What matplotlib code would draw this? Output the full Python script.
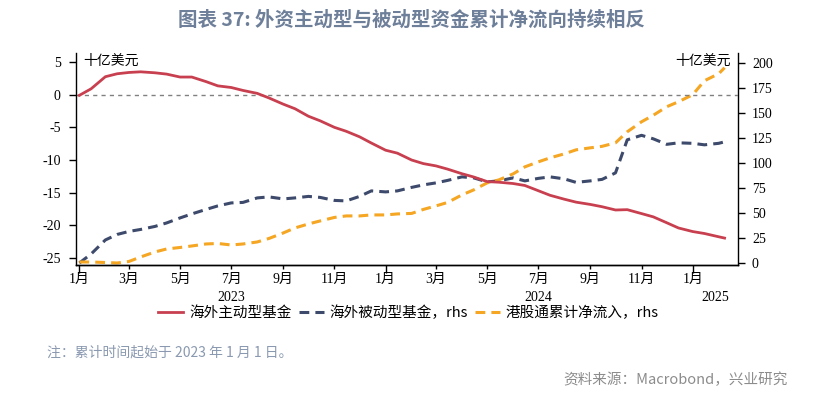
import matplotlib
matplotlib.use('Agg')
import matplotlib.pyplot as plt
import matplotlib.dates as mdates
import matplotlib.transforms as mtransforms
import pandas as pd

plt.rcParams['font.family'] = ['Liberation Serif', 'Noto Sans CJK SC', 'DejaVu Sans']
plt.rcParams['axes.unicode_minus'] = False

# 日期（半月取样）
dates = ['2023-01-01', '2023-01-15', '2023-02-01', '2023-02-15', '2023-03-01', '2023-03-15',
         '2023-04-01', '2023-04-15', '2023-05-01', '2023-05-15', '2023-06-01', '2023-06-15',
         '2023-07-01', '2023-07-15', '2023-08-01', '2023-08-15', '2023-09-01', '2023-09-15',
         '2023-10-01', '2023-10-15', '2023-11-01', '2023-11-15', '2023-12-01', '2023-12-15',
         '2024-01-01', '2024-01-15', '2024-02-01', '2024-02-15', '2024-03-01', '2024-03-15',
         '2024-04-01', '2024-04-15', '2024-05-01', '2024-05-15', '2024-06-01', '2024-06-15',
         '2024-07-01', '2024-07-15', '2024-08-01', '2024-08-15', '2024-09-01', '2024-09-15',
         '2024-10-01', '2024-10-15', '2024-11-01', '2024-11-15', '2024-12-01', '2024-12-15',
         '2025-01-01', '2025-01-15', '2025-02-01', '2025-02-08']

# 海外主动型基金（左轴，十亿美元）
active = [-0.1, 0.9, 2.75, 3.2, 3.4, 3.5, 3.35, 3.15, 2.7, 2.7, 2.0, 1.35,
          1.1, 0.65, 0.2, -0.5, -1.45, -2.15, -3.3, -4.0, -5.0, -5.6, -6.45, -7.4,
          -8.5, -8.95, -10.0, -10.55, -10.9, -11.4, -12.1, -12.6, -13.3, -13.4, -13.6, -13.9,
          -14.7, -15.4, -16.0, -16.45, -16.8, -17.15, -17.65, -17.6, -18.2, -18.7, -19.6, -20.4,
          -20.95, -21.25, -21.75, -21.95]

# 海外被动型基金（右轴）
passive = [0, 9, 23, 28.5, 31.5, 33.5, 36.5, 40, 45, 49, 53.5, 57,
           60, 60.5, 65, 66, 64, 65, 66.5, 65.5, 62.5, 62, 66.5, 72,
           71, 72, 75.5, 78, 80, 82.5, 86, 85, 81, 82, 85, 82,
           84.5, 86, 84, 80.5, 82, 83.5, 90, 123, 127.5, 124, 118.5, 120,
           119.5, 118, 119.5, 121]

# 港股通累计净流入（右轴）
southbound = [1, 1, 0.5, 0, 1.5, 6, 11, 14, 15.5, 17, 19, 19.5,
              18, 19, 21, 24.5, 30, 35, 39, 42, 45.5, 47, 47, 48,
              48, 49, 49.5, 53.5, 57, 60.5, 68, 73, 80, 83, 89, 96,
              101, 105, 109, 113, 115, 116.5, 120, 131, 141, 147.5, 156, 161,
              168, 182, 189, 195]

labels = ['海外主动型基金', '海外被动型基金，rhs', '港股通累计净流入，rhs']
years = ['2023', '2024', '2025']
year_pos = ['2023-07-01', '2024-07-01', '2025-01-28']

x = pd.to_datetime(dates)

fig = plt.figure(figsize=(8.22, 3.96), dpi=100)
ax = fig.add_axes([76/822, 1-265/396, 662/822, 212/396])
ax2 = ax.twinx()

cjk = ['Noto Sans CJK SC', 'DejaVu Sans']

l1, = ax.plot(x, active, color='#c8404f', lw=2.0, zorder=3)
l2, = ax2.plot(x, passive, color='#3d4a6b', lw=2.2, dashes=(3.2, 2.0))
l3, = ax2.plot(x, southbound, color='#f5a623', lw=2.2, dashes=(3.2, 2.0))
ax.set_zorder(ax2.get_zorder() + 1)
ax.patch.set_visible(False)

ax.axhline(0, color='#808080', lw=1.0, dashes=(3, 3), zorder=1)

ax.set_xlim(pd.Timestamp('2022-12-28'), pd.Timestamp('2025-02-24'))
ax.set_ylim(-26.07, 6.38)
ax2.set_ylim(-2, 209.7)
ax.set_yticks([5, 0, -5, -10, -15, -20, -25])
ax2.set_yticks([0, 25, 50, 75, 100, 125, 150, 175, 200])

ax.xaxis.set_major_locator(mdates.MonthLocator(bymonth=[1, 3, 5, 7, 9, 11]))
ax.xaxis.set_major_formatter(plt.FuncFormatter(lambda v, p: f'{mdates.num2date(v).month}月'))

for a in (ax, ax2):
    a.spines['top'].set_visible(False)
    for s in a.spines.values():
        s.set_linewidth(1.0)
ax.spines['right'].set_visible(False)
ax2.spines['left'].set_visible(False)

ax.tick_params(axis='y', direction='out', length=5, width=1, pad=6, labelsize=10)
ax2.tick_params(axis='y', direction='out', length=5, width=1, pad=5, labelsize=10)
ax.tick_params(axis='x', direction='out', length=3, width=1, pad=3, labelsize=10)

fig.canvas.draw()
for t, v in zip(ax.xaxis.get_major_ticks(), ax.get_xticks()):
    if mdates.num2date(v).month == 1:
        t.tick1line.set_markersize(6)

trans = mtransforms.blended_transform_factory(ax.transData, ax.transAxes)
for yr, pos in zip(years, year_pos):
    ax.text(pd.Timestamp(pos), -0.151, yr, transform=trans, ha='center', va='center', fontsize=10)

ax.text(0.0106, 0.962, '十亿美元', transform=ax.transAxes, ha='left', va='center',
        fontsize=10, family=cjk)
ax.text(0.989, 0.962, '十亿美元', transform=ax.transAxes, ha='right', va='center',
        fontsize=10, family=cjk)

fig.legend([l1, l2, l3], labels, loc='center', bbox_to_anchor=(0.497, 1-312.7/396),
           ncol=3, frameon=False, handlelength=1.7, handletextpad=0.4,
           columnspacing=0.5, prop={'family': cjk, 'size': 10.5})

fig.text(0.5, 1-20/396, '图表 37: 外资主动型与被动型资金累计净流向持续相反', ha='center', va='center',
         fontsize=14, fontweight='bold', color='#6e7f99', family=cjk)
fig.text(47/822, 1-353/396, '注：累计时间起始于 2023 年 1 月 1 日。', ha='left', va='center',
         fontsize=10, color='#8a99b0', family=cjk)
fig.text(788/822, 1-380/396, '资料来源：Macrobond，兴业研究', ha='right', va='center',
         fontsize=10.5, color='#8c8c8c', family=cjk)

fig.savefig('out.png', dpi=100)
